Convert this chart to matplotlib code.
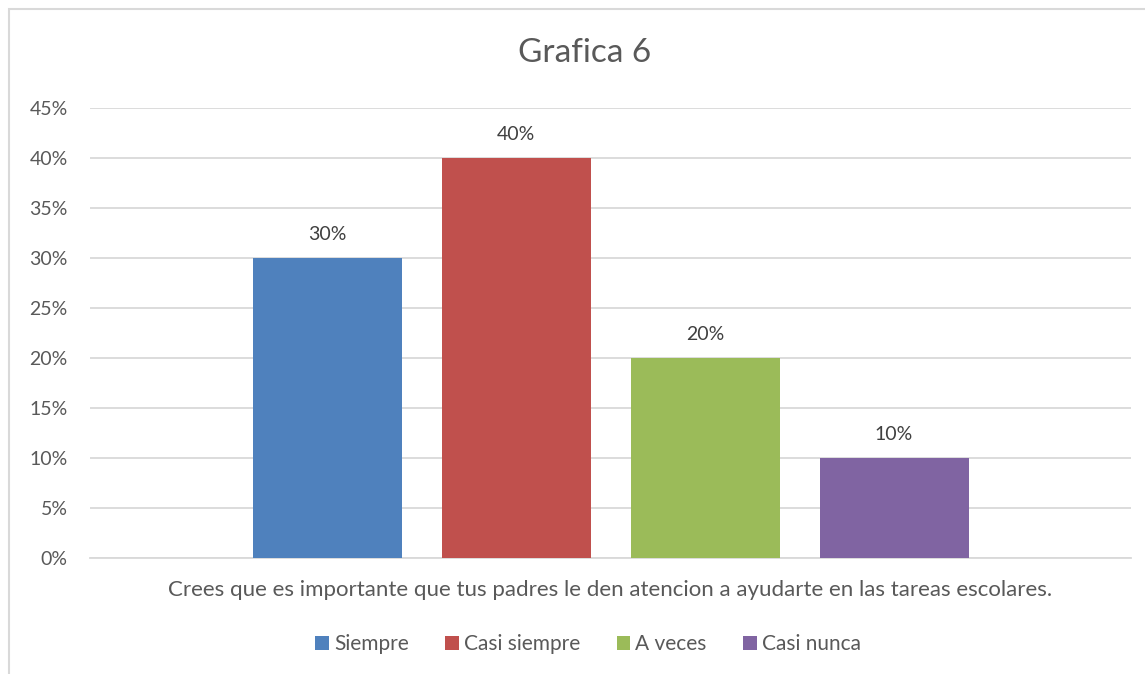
import matplotlib

matplotlib.use("Agg")
import matplotlib.pyplot as plt
from matplotlib.patches import Patch, Rectangle

plt.rcParams["font.family"] = ["Lato", "DejaVu Sans"]

TITLE = "Grafica 6"
CATEGORY = "Crees que es importante que tus padres le den atencion a ayudarte en las tareas escolares."
SERIES = ["Siempre", "Casi siempre", "A veces", "Casi nunca"]
VALUES = [30, 40, 20, 10]
COLORS = ["#4f81bd", "#c0504d", "#9bbb59", "#8064a2"]
Y_TICKS = [0, 5, 10, 15, 20, 25, 30, 35, 40, 45]

TEXT = "#595959"
W, H = 1145, 674

fig = plt.figure(figsize=(W / 100, H / 100), dpi=100)
fig.patch.set_facecolor("white")

# chart border (cropped on right and bottom, like the source)
fig.add_artist(
    Rectangle(
        (8.5 / W, -0.1),
        1.2,
        1.1 - 9.5 / H,
        transform=fig.transFigure,
        fill=False,
        edgecolor="#d9d9d9",
        linewidth=1.5,
    )
)

ax = fig.add_axes([90 / W, (H - 558) / H, (1131 - 90) / W, 450 / H])

step = 189 / 1041
width = 149 / 1041
for i, (name, val, col) in enumerate(zip(SERIES, VALUES, COLORS)):
    x = (i - 1.5) * step
    ax.bar(x, val, width=width, color=col, zorder=3, label=name)
    ax.text(x, val + 2.4, f"{val}%", ha="center", va="center", fontsize=14, color="#404040")

ax.set_xlim(-0.5, 0.5)
ax.set_ylim(0, 45)
ax.set_yticks(Y_TICKS)
ax.set_yticklabels([f"{t}%" for t in Y_TICKS], fontsize=14, color=TEXT)
ax.set_xticks([0])
ax.set_xticklabels([CATEGORY], fontsize=16, color=TEXT)
ax.tick_params(axis="both", length=0)
ax.tick_params(axis="y", pad=16)
ax.tick_params(axis="x", pad=16)
ax.grid(axis="y", color="#d9d9d9", linewidth=1.3, zorder=0)
for side in ["top", "right", "left"]:
    ax.spines[side].set_visible(False)
ax.spines["bottom"].set_color("#d9d9d9")
ax.spines["bottom"].set_linewidth(1.3)

fig.text(585 / W, 1 - 53 / H, TITLE, ha="center", va="center", fontsize=24, color=TEXT)

handles = [Patch(facecolor=c, edgecolor="none") for c in COLORS]
fig.legend(
    handles,
    SERIES,
    loc="center",
    bbox_to_anchor=(588 / W, 1 - 644 / H),
    ncol=4,
    frameon=False,
    fontsize=15,
    handlelength=0.65,
    handleheight=0.65,
    handletextpad=0.25,
    columnspacing=1.75,
    labelcolor=TEXT,
)

fig.savefig("out.png", dpi=100, facecolor="white")
